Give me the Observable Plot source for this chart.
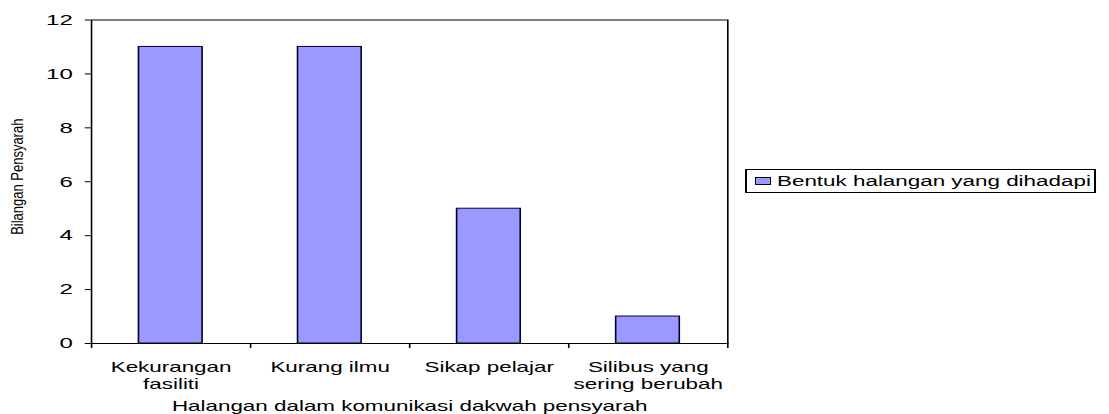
<!DOCTYPE html>
<html>
<head>
<meta charset="utf-8">
<script src="https://cdn.jsdelivr.net/npm/d3@7"></script>
<script src="https://cdn.jsdelivr.net/npm/@observablehq/plot@0.6"></script>
<style>
  body { margin: 0; background: #fff; }
  #wrap { position: relative; width: 1109px; height: 414px; overflow: hidden; }
  #legend { position: absolute; left: 745px; top: 169px; width: 347px; height: 22px;
    border: 1px solid #000; border-left-width: 2px; border-right-width: 2px; background: #fff; }
  #legend .sw { position: absolute; left: 8px; top: 7px; width: 14px; height: 6px;
    background: #9999FF; border: 1px solid #000; }
  #legend .tx { position: absolute; left: 30px; top: 0; line-height: 22px; white-space: nowrap;
    font-family: "Liberation Sans", Arial, sans-serif; font-size: 14px; color: #000;
    transform: scaleX(1.6); transform-origin: 0 50%; }
</style>
</head>
<body>
<div id="wrap"></div>
<script>
const categories = ["Kekurangan\nfasiliti", "Kurang ilmu", "Sikap pelajar", "Silibus yang\nsering berubah"];
const values = [11, 11, 5, 1];
const yTicks = [0, 2, 4, 6, 8, 10, 12];
const seriesName = "Bentuk halangan yang dihadapi";
const xTitle = "Halangan dalam komunikasi dakwah pensyarah";
const yTitle = "Bilangan Pensyarah";

const data = categories.map((c, i) => ({c, i, v: values[i]}));
const W = 693; // drawn width, stretched horizontally to 1109px
const font = "'Liberation Sans', Arial, sans-serif";

const chart = Plot.plot({
  width: W, height: 414,
  marginLeft: 56.7, marginRight: 238.7, marginTop: 19.5, marginBottom: 71,
  style: {fontFamily: font, fontSize: "14px", color: "#000", background: "transparent"},
  x: {type: "linear", domain: [0, categories.length]},
  y: {domain: [0, 12]},
  marks: [
    Plot.rectY(data, {x1: d => d.i + 0.3, x2: d => d.i + 0.7, y: "v", fill: "#9999FF", stroke: "#000033", strokeWidth: 1}),
    Plot.axisY({ticks: yTicks, tickSize: 3.75, tickPadding: 8, label: null, fontSize: 15}),
    Plot.axisX({ticks: d3.range(categories.length + 1), tickSize: 5, tickFormat: () => "", label: null}),
    Plot.axisX({ticks: categories.map((c, i) => i + 0.5), tickSize: 0, tickPadding: 16, lineHeight: 1.25,
      tickFormat: t => categories[Math.floor(t)], label: null, fontSize: 14}),
    Plot.frame({stroke: "#000"}),
    Plot.text([xTitle], {frameAnchor: "bottom", dy: 58, lineAnchor: "top", text: d => d, fontSize: 14}),
    Plot.text([yTitle], {frameAnchor: "left", textAnchor: "middle", dx: -45.8, dy: -5, rotate: -90, lineAnchor: "middle", fontSize: 13, text: d => d})
  ]
});

chart.setAttribute("width", 1109);
chart.setAttribute("height", 414);
chart.setAttribute("preserveAspectRatio", "none");
chart.style.width = "1109px";
chart.style.height = "414px";
chart.style.maxWidth = "none";
d3.select(chart).selectAll("text")
  .filter(function() { return this.textContent === yTitle; })
  .each(function() {
    const t = this.getAttribute("transform") || "";
    this.setAttribute("transform", t + " scale(1,0.78)");
  });

const wrap = document.getElementById("wrap");
wrap.appendChild(chart);
const leg = document.createElement("div");
leg.id = "legend";
leg.innerHTML = `<div class="sw"></div><span class="tx"></span>`;
leg.querySelector(".tx").textContent = seriesName;
wrap.appendChild(leg);
</script>
</body>
</html>
